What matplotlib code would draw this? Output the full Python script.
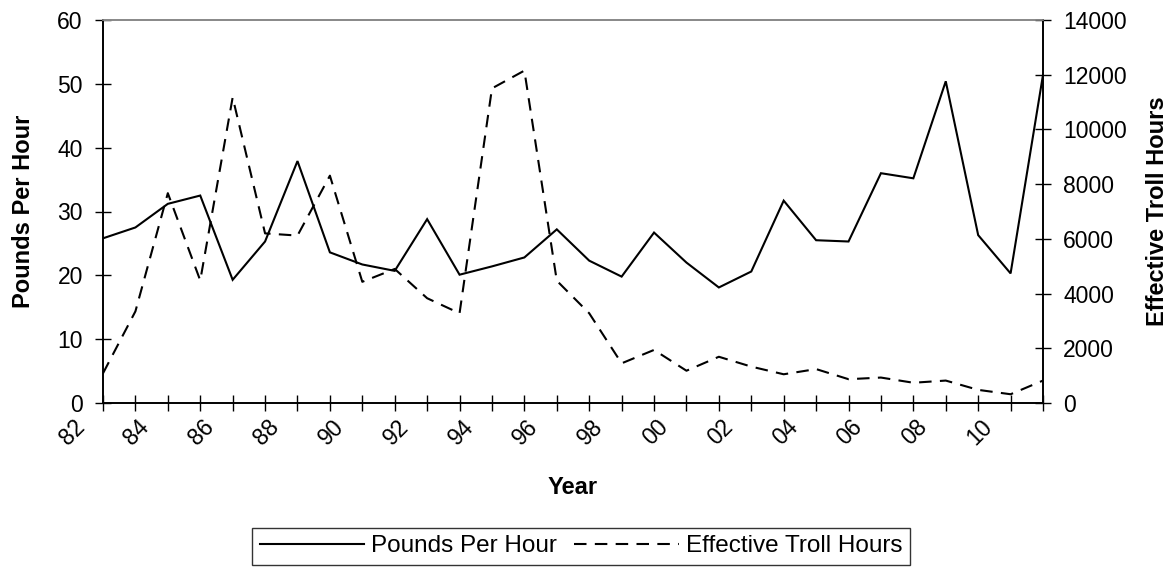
import matplotlib
matplotlib.use('Agg')
import matplotlib.pyplot as plt
import matplotlib.transforms as mtransforms

years = list(range(1982, 2012))
pounds_per_hour = [25.8, 27.5, 31.2, 32.5, 19.3, 25.3, 37.9, 23.6, 21.7, 20.7,
                   28.8, 20.1, 21.4, 22.8, 27.2, 22.3, 19.8, 26.7, 22.0, 18.1,
                   20.6, 31.7, 25.5, 25.3, 36.0, 35.2, 50.4, 26.3, 20.3, 51.4]
troll_hours = [1085, 3350, 7670, 4480, 11170, 6200, 6120, 8310, 4430, 4900,
               3830, 3280, 11500, 12150, 4470, 3280, 1450, 1940, 1180, 1690,
               1330, 1050, 1240, 870, 930, 740, 820, 480, 320, 820]
left_ticks = [0, 10, 20, 30, 40, 50, 60]
right_ticks = [0, 2000, 4000, 6000, 8000, 10000, 12000, 14000]
x_labels = [f"{y % 100:02d}" if (y - 1982) % 2 == 0 else "" for y in years]

plt.rcParams['font.family'] = ['Liberation Sans', 'DejaVu Sans']

fig = plt.figure(figsize=(11.71, 5.67), dpi=100)
ax = fig.add_axes([103/1171, 1 - 403/567, (1043-103)/1171, (403-20)/567])
ax2 = ax.twinx()

l1, = ax.plot(years, pounds_per_hour, color='black', lw=1.5, solid_joinstyle='miter')
l2, = ax2.plot(years, troll_hours, color='black', lw=1.5, dashes=(6, 4))

ax.set_xlim(1982, 2011)
ax.set_ylim(0, 60)
ax2.set_ylim(0, 14000)
ax.set_yticks(left_ticks)
ax2.set_yticks(right_ticks)
ax.set_xticks(years)

for a in (ax, ax2):
    for s in a.spines.values():
        s.set_linewidth(1.2)
        s.set_color('black')
    a.spines['top'].set_color('#888888')
ax.tick_params(axis='both', direction='inout', length=11, width=1, labelsize=16.5, colors='black')
ax.tick_params(axis='y', pad=9)
ax.tick_params(axis='x', pad=2)
ax2.tick_params(axis='y', direction='inout', length=11, width=1, labelsize=16.5, pad=9)

ax.set_xticklabels(x_labels, rotation=45, ha='right', va='top')
offset = mtransforms.ScaledTranslation(-14/100, -2/100, fig.dpi_scale_trans)
for lab in ax.get_xticklabels():
    lab.set_transform(lab.get_transform() + offset)

ax.set_ylabel('Pounds Per Hour', fontsize=17, fontweight='bold', labelpad=16)
ax2.set_ylabel('Effective Troll Hours', fontsize=17, fontweight='bold', rotation=90, labelpad=14)
fig.text(573/1171, 1 - 487/567, 'Year', fontsize=17, fontweight='bold', ha='center', va='center')

leg = fig.legend([l1, l2], ['Pounds Per Hour', 'Effective Troll Hours'],
                 loc='upper center', bbox_to_anchor=(581/1171, 1 - 528/567),
                 ncol=2, fontsize=17.5, frameon=True, fancybox=False, shadow=False,
                 handlelength=4.3, handletextpad=0.3, columnspacing=0.7,
                 borderpad=0.3, borderaxespad=0)
leg.get_frame().set_edgecolor('black')
leg.get_frame().set_linewidth(1.0)

fig.savefig('out.png', dpi=100)
